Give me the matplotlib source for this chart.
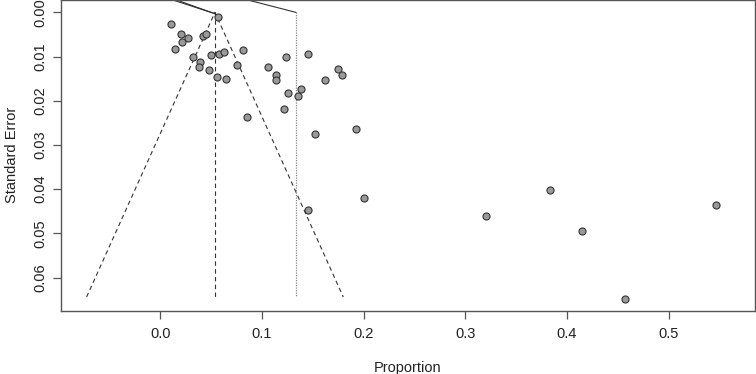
import numpy as np
import matplotlib.pyplot as plt

plt.rcParams['font.family'] = ['Liberation Sans', 'DejaVu Sans']

# study estimates (proportion) and their standard errors
proportion = [0.0570, 0.0105, 0.0201, 0.0269, 0.0210, 0.0142, 0.0420, 0.0454,
              0.0318, 0.0393, 0.0377, 0.0479, 0.0501, 0.0577, 0.0626, 0.0813,
              0.0754, 0.0560, 0.0646, 0.0852, 0.1056, 0.1140, 0.1140, 0.1238,
              0.1452, 0.1619, 0.1753, 0.1786, 0.1258, 0.1383, 0.1356, 0.1216,
              0.1527, 0.1930, 0.2005, 0.1452, 0.3204, 0.3833, 0.4145, 0.4574,
              0.5465]
std_error = [0.0010, 0.0027, 0.0049, 0.0058, 0.0067, 0.0082, 0.0054, 0.0048,
             0.0102, 0.0112, 0.0123, 0.0130, 0.0097, 0.0095, 0.0090, 0.0085,
             0.0118, 0.0146, 0.0150, 0.0237, 0.0124, 0.0141, 0.0154, 0.0100,
             0.0095, 0.0152, 0.0128, 0.0141, 0.0183, 0.0173, 0.0189, 0.0218,
             0.0275, 0.0265, 0.0421, 0.0447, 0.0460, 0.0402, 0.0494, 0.0648,
             0.0436]

pooled = 0.0538      # summary estimate (funnel centre)
ref_line = 0.1334    # dotted reference line
se_max = 0.0644
x_ticks = [0.0, 0.1, 0.2, 0.3, 0.4, 0.5]
y_ticks = [0.00, 0.01, 0.02, 0.03, 0.04, 0.05, 0.06]

fig = plt.figure(figsize=(7.56, 3.74), dpi=100)
ax = fig.add_axes([0.0807, 0.1693, 0.918, 0.8307])

# funnel
half = 1.96 * se_max
ax.plot([pooled - half, pooled, pooled + half], [se_max, 0, se_max],
        ls=(0, (4, 3)), color='#333333', lw=0.8)
ax.plot([pooled, pooled], [0, se_max], ls=(0, (4, 3)), color='#333333', lw=0.8)
ax.plot([ref_line, ref_line], [0, se_max], ls=(0, (1, 1)), color='#888888', lw=0.9)

# lines running off the top of the panel
ax.plot([pooled, 0.0125], [0.0003, -0.0028], color='#333333', lw=0.8)
ax.plot([pooled, 0.0161], [0.0003, -0.0028], color='#333333', lw=0.8)
ax.plot([ref_line, 0.0862], [0, -0.0028], color='#333333', lw=0.8)

ax.scatter(proportion, std_error, s=26, facecolor='#999999',
           edgecolor='#333333', linewidths=0.8, zorder=3)

ax.set_xlim(-0.0976, 0.585)
ax.set_ylim(0.0675, -0.0028)
ax.set_xticks(x_ticks)
ax.set_xticklabels([f"{v:.1f}" for v in x_ticks])
ax.set_yticks(y_ticks)
ax.set_yticklabels([f"{v:.2f}" for v in y_ticks], rotation=90, va='center')

for s in ax.spines.values():
    s.set_color('#555555')
    s.set_linewidth(1.0)
ax.tick_params(direction='out', length=6, width=0.9, color='#555555',
               labelsize=10.5, labelcolor='#222222', pad=6)
ax.tick_params(axis='y', pad=4)

ax.set_xlabel("Proportion", fontsize=10.5, color='#222222', labelpad=14)
ax.set_ylabel("Standard Error", fontsize=10.5, color='#222222', labelpad=10)

fig.savefig("out.png", dpi=100)
